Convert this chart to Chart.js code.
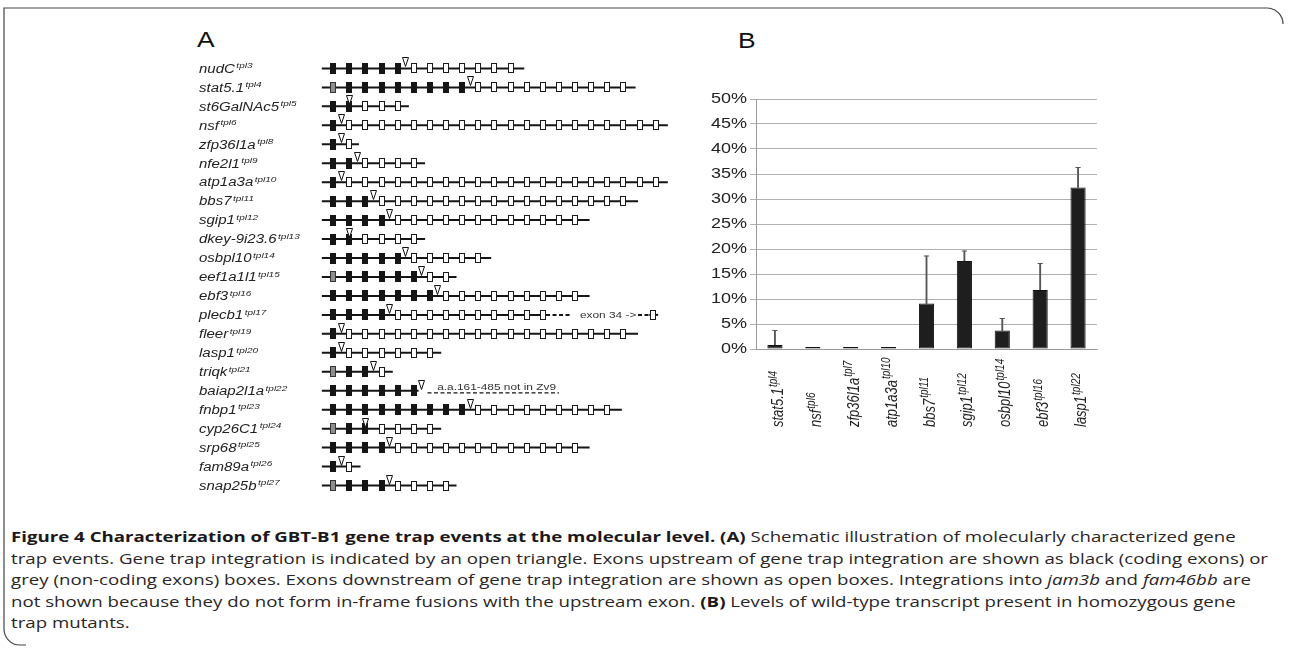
<!DOCTYPE html>
<html><head><meta charset="utf-8">
<script src="https://cdn.jsdelivr.net/npm/chart.js@4.4.1/dist/chart.umd.min.js"></script>
<style>
html,body{margin:0;padding:0;background:#fff;}
body{width:1290px;height:653px;position:relative;overflow:hidden;}
#frame{position:absolute;left:0;top:0;}
#cA{position:absolute;left:160px;top:35px;}
#cB{position:absolute;left:700px;top:80px;}
.pl{position:absolute;font-family:"Liberation Sans",Arial,sans-serif;font-size:22px;line-height:22px;color:#111;transform-origin:left top;transform:scaleX(1.2);}
#caption{position:absolute;left:11px;top:526px;font-family:"Open Sans",sans-serif;font-size:14px;line-height:21.5px;color:#2a2627;white-space:nowrap;}
#caption .ln{transform-origin:left top;}
#caption b{font-weight:700;color:#1c1819;}
</style></head>
<body>
<svg id="frame" width="1290" height="653"><path d="M1283,24 A16,16 0 0 0 1267,8 L4,8 L4,629 A16,16 0 0 0 20,645 L26,645" fill="none" stroke="#444" stroke-width="1.2"/></svg>
<div class="pl" style="left:197px;top:29px;">A</div>
<div class="pl" style="left:738px;top:30px;">B</div>
<canvas id="cA" width="533" height="465"></canvas>
<canvas id="cB" width="420" height="360"></canvas>
<div id="caption">
<div class="ln"><b>Figure 4 Characterization of GBT-B1 gene trap events at the molecular level. (A)</b> Schematic illustration of molecularly characterized gene</div>
<div class="ln" id="ref">trap events. Gene trap integration is indicated by an open triangle. Exons upstream of gene trap integration are shown as black (coding exons) or</div>
<div class="ln">grey (non-coding exons) boxes. Exons downstream of gene trap integration are shown as open boxes. Integrations into <i>jam3b</i> and <i>fam46bb</i> are</div>
<div class="ln">not shown because they do not form in-frame fusions with the upstream exon. <b>(B)</b> Levels of wild-type transcript present in homozygous gene</div>
<div class="ln">trap mutants.</div>
</div>
<script>
// ---------------- Panel A data ----------------
const geneNames = ['nudC','stat5.1','st6GalNAc5','nsf','zfp36l1a','nfe2l1','atp1a3a','bbs7','sgip1','dkey-9i23.6','osbpl10','eef1a1l1','ebf3','plecb1','fleer','lasp1','triqk','baiap2l1a','fnbp1','cyp26C1','srp68','fam89a','snap25b'];
const geneAlleles = ['tpl3','tpl4','tpl5','tpl6','tpl8','tpl9','tpl10','tpl11','tpl12','tpl13','tpl14','tpl15','tpl16','tpl17','tpl19','tpl20','tpl21','tpl22','tpl23','tpl24','tpl25','tpl26','tpl27'];
const nonCodingExons  = [0,1,0,0,0,0,0,0,0,0,0,1,0,0,0,0,1,0,0,1,0,0,1];
const codingExons     = [5,8,2,1,1,2,1,3,4,2,5,5,7,4,1,1,2,6,9,2,4,1,3];
const downstreamExons = [7,10,3,20,1,4,20,16,12,4,5,2,9,10,18,6,1,0,9,4,12,1,4];
const trapSites       = [4.5,8.5,1,0.5,0.5,1.5,0.5,2.5,3.5,1,4.5,5.5,6.5,3.5,0.5,0.5,2.5,5.5,8.5,2,3.5,0.5,3.5];
const geneStart = -0.7;
const geneEnds        = [11.85,18.75,4.7,20.75,1.6,5.7,20.75,18.9,15.9,5.7,9.8,7.65,15.9,13.2,18.9,6.7,3.7,5.3,17.9,6.7,15.9,1.7,7.65];
const extraSolid  = [{row:13, from:19.6, to:20.15}];
const dashedSegs  = [{row:13, from:13.2, to:14.8, dy:0}, {row:13, from:18.9, to:19.6, dy:0}, {row:17, from:5.85, to:14.0, dy:0.11}];
const extraExons  = [{row:13, x:19.85}];
const notes = [{row:13, x:15.3, dy:3, text:'exon 34 ->'}, {row:17, x:6.45, dy:-0.5, text:'a.a.161-485 not in Zv9'}];

// ---------------- Panel B data ----------------
const bGenes   = ['stat5.1','nsf','zfp36l1a','atp1a3a','bbs7','sgip1','osbpl10','ebf3','lasp1'];
const bAlleles = ['tpl4','tpl6','tpl7','tpl10','tpl11','tpl12','tpl14','tpl16','tpl22'];
const wtLevels = [0.8,0.15,0.1,0.25,9.1,17.6,3.7,11.8,32.3];
const wtErrors = [2.9,0,0,0,9.5,2.0,2.4,5.3,4.0];
const yTicks   = [0,5,10,15,20,25,30,35,40,45,50];

// ---------------- helpers ----------------
function mk(w,h,draw){const c=document.createElement('canvas');c.width=w;c.height=h;draw(c.getContext('2d'));return c;}
const imgCoding = mk(6,11,g=>{g.fillStyle='#151515';g.fillRect(0,0,6,11);});
const imgNonCoding = mk(6,11,g=>{g.fillStyle='#8e8e8e';g.fillRect(0,0,6,11);g.strokeStyle='#333';g.lineWidth=1;g.strokeRect(0.5,0.5,5,10);});
const imgOpen = mk(6,10,g=>{g.fillStyle='#fff';g.fillRect(0,0,6,10);g.strokeStyle='#1a1a1a';g.lineWidth=1;g.strokeRect(0.5,0.5,5,9);});
const imgTrap = mk(7,22,g=>{g.beginPath();g.moveTo(0.5,0.5);g.lineTo(6.5,0.5);g.lineTo(3.5,9.5);g.closePath();g.fillStyle='#fff';g.fill();g.strokeStyle='#111';g.lineWidth=1;g.stroke();});
function sText(ctx,t,x,y,sx){ctx.save();ctx.translate(x,y);ctx.scale(sx,1);ctx.fillText(t,0,0);ctx.restore();}

// build panel A datasets
const ptsCoding=[], ptsNon=[], ptsOpen=[], ptsTrap=[];
geneNames.forEach((g,i)=>{
  let k=0;
  for(let j=0;j<nonCodingExons[i];j++) ptsNon.push({x:k++,y:i});
  for(let j=0;j<codingExons[i];j++) ptsCoding.push({x:k++,y:i});
  for(let j=0;j<downstreamExons[i];j++) ptsOpen.push({x:k++,y:i});
  ptsTrap.push({x:trapSites[i],y:i});
});
extraExons.forEach(e=>ptsOpen.push({x:e.x,y:e.row}));
const dsA = [
  {label:'trap', data:ptsTrap, pointStyle:imgTrap, pointRadius:3, order:0},
  {label:'non-coding', data:ptsNon, pointStyle:imgNonCoding, pointRadius:3, order:1},
  {label:'coding', data:ptsCoding, pointStyle:imgCoding, pointRadius:3, order:1},
  {label:'downstream', data:ptsOpen, pointStyle:imgOpen, pointRadius:3, order:1}
];
const lineBase = {showLine:true, pointRadius:0, borderColor:'#151515', borderWidth:2, order:5};
geneNames.forEach((g,i)=>dsA.push(Object.assign({label:'intron '+g, data:[{x:geneStart,y:i},{x:geneEnds[i],y:i}]},lineBase)));
extraSolid.forEach(s=>dsA.push(Object.assign({label:'intron x', data:[{x:s.from,y:s.row},{x:s.to,y:s.row}]},lineBase)));
dashedSegs.forEach(s=>dsA.push(Object.assign({},lineBase,{label:'dash', data:[{x:s.from,y:s.row+s.dy},{x:s.to,y:s.row+s.dy}], borderDash:[4,2.5], borderWidth:s.dy?1.3:2})));

const crisp = {id:'crisp', beforeDatasetsDraw(chart){chart.ctx.imageSmoothingEnabled=false;}};
const labelsA = {id:'labelsA', afterDraw(chart){
  const {ctx, scales:{x,y}} = chart;
  ctx.save(); ctx.fillStyle='#222'; ctx.textAlign='left'; ctx.textBaseline='alphabetic';
  geneNames.forEach((g,i)=>{
    const py = y.getPixelForValue(i)+4.3;
    ctx.font='italic 12px "Liberation Sans"';
    const w = ctx.measureText(g).width*1.25;
    sText(ctx,g,39,py,1.25);
    ctx.font='italic 8px "Liberation Sans"';
    sText(ctx,geneAlleles[i],39+w+1.5,py-4.5,1.25);
  });
  ctx.fillStyle='#333'; ctx.font='9.5px "Liberation Sans"';
  notes.forEach(n=>sText(ctx,n.text,x.getPixelForValue(n.x),y.getPixelForValue(n.row)+n.dy,1.25));
  ctx.restore();
}};

new Chart(document.getElementById('cA'),{
  type:'scatter',
  data:{datasets:dsA},
  options:{responsive:false, animation:false, events:[], devicePixelRatio:1,
    layout:{padding:{left:157,right:0,top:0,bottom:0}},
    plugins:{legend:{display:false}, tooltip:{enabled:false}},
    scales:{x:{type:'linear',min:-1,max:22,display:false}, y:{type:'linear',min:-1.5,max:22.5,reverse:true,display:false}}
  },
  plugins:[crisp, labelsA]
});

// ---------------- Panel B ----------------
const errRange = wtLevels.map((v,i)=>wtErrors[i]>0?[v,v+wtErrors[i]]:null);
const errTop = wtLevels.map((v,i)=>wtErrors[i]>0?v+wtErrors[i]:null);
const labelsB = {id:'labelsB', afterDraw(chart){
  const {ctx, scales:{x,y}} = chart;
  ctx.save(); ctx.fillStyle='#222';
  ctx.font='15px "Liberation Sans"'; ctx.textAlign='right'; ctx.textBaseline='middle';
  yTicks.forEach(v=>sText(ctx,v+'%',47,y.getPixelForValue(v),1.2));
  bGenes.forEach((g,i)=>{
    const px = x.getPixelForValue(i)+8, py = 427-80;
    ctx.save(); ctx.translate(px,py); ctx.scale(1.25,1); ctx.rotate(-Math.PI/2);
    ctx.textAlign='left'; ctx.textBaseline='alphabetic';
    ctx.font='italic 13px "Liberation Sans"'; ctx.fillText(g,0,0);
    const w = ctx.measureText(g).width;
    ctx.font='italic 10px "Liberation Sans"'; ctx.fillText(bAlleles[i],w+1,-5);
    ctx.restore();
  });
  ctx.restore();
}};
new Chart(document.getElementById('cB'),{
  type:'bar',
  data:{labels:bGenes, datasets:[
    {type:'line', label:'cap', data:errTop, showLine:false, pointStyle:'line', pointRadius:2.6, borderColor:'#555', borderWidth:1, order:0},
    {label:'wild-type transcript', data:wtLevels, backgroundColor:'#1e1e1e', borderColor:'#111', borderWidth:1, borderSkipped:false, barPercentage:0.4, categoryPercentage:1, grouped:false, minBarLength:2, order:1},
    {label:'error', data:errRange, backgroundColor:'#555', barThickness:1.2, grouped:false, order:2}
  ]},
  options:{responsive:false, animation:false, events:[], devicePixelRatio:1,
    layout:{padding:{left:0,right:23,top:19,bottom:0}},
    plugins:{legend:{display:false}, tooltip:{enabled:false}},
    scales:{
      x:{grid:{display:false}, border:{display:true,color:'#9a9a9a',width:1}, ticks:{display:false}, afterFit:s=>{s.height=91;}},
      y:{min:0,max:50, ticks:{stepSize:5, display:false}, grid:{color:'#b0b0b0', lineWidth:1, drawTicks:true, tickLength:6}, border:{color:'#9a9a9a',width:1}, afterFit:s=>{s.width=56;}}
    }
  },
  plugins:[labelsB]
});

// caption fit
const ref = document.getElementById('ref');
const f = 1257/ref.getBoundingClientRect().width;
document.querySelectorAll('#caption .ln').forEach(l=>l.style.transform='scaleX('+f+')');
</script>
</body></html>
